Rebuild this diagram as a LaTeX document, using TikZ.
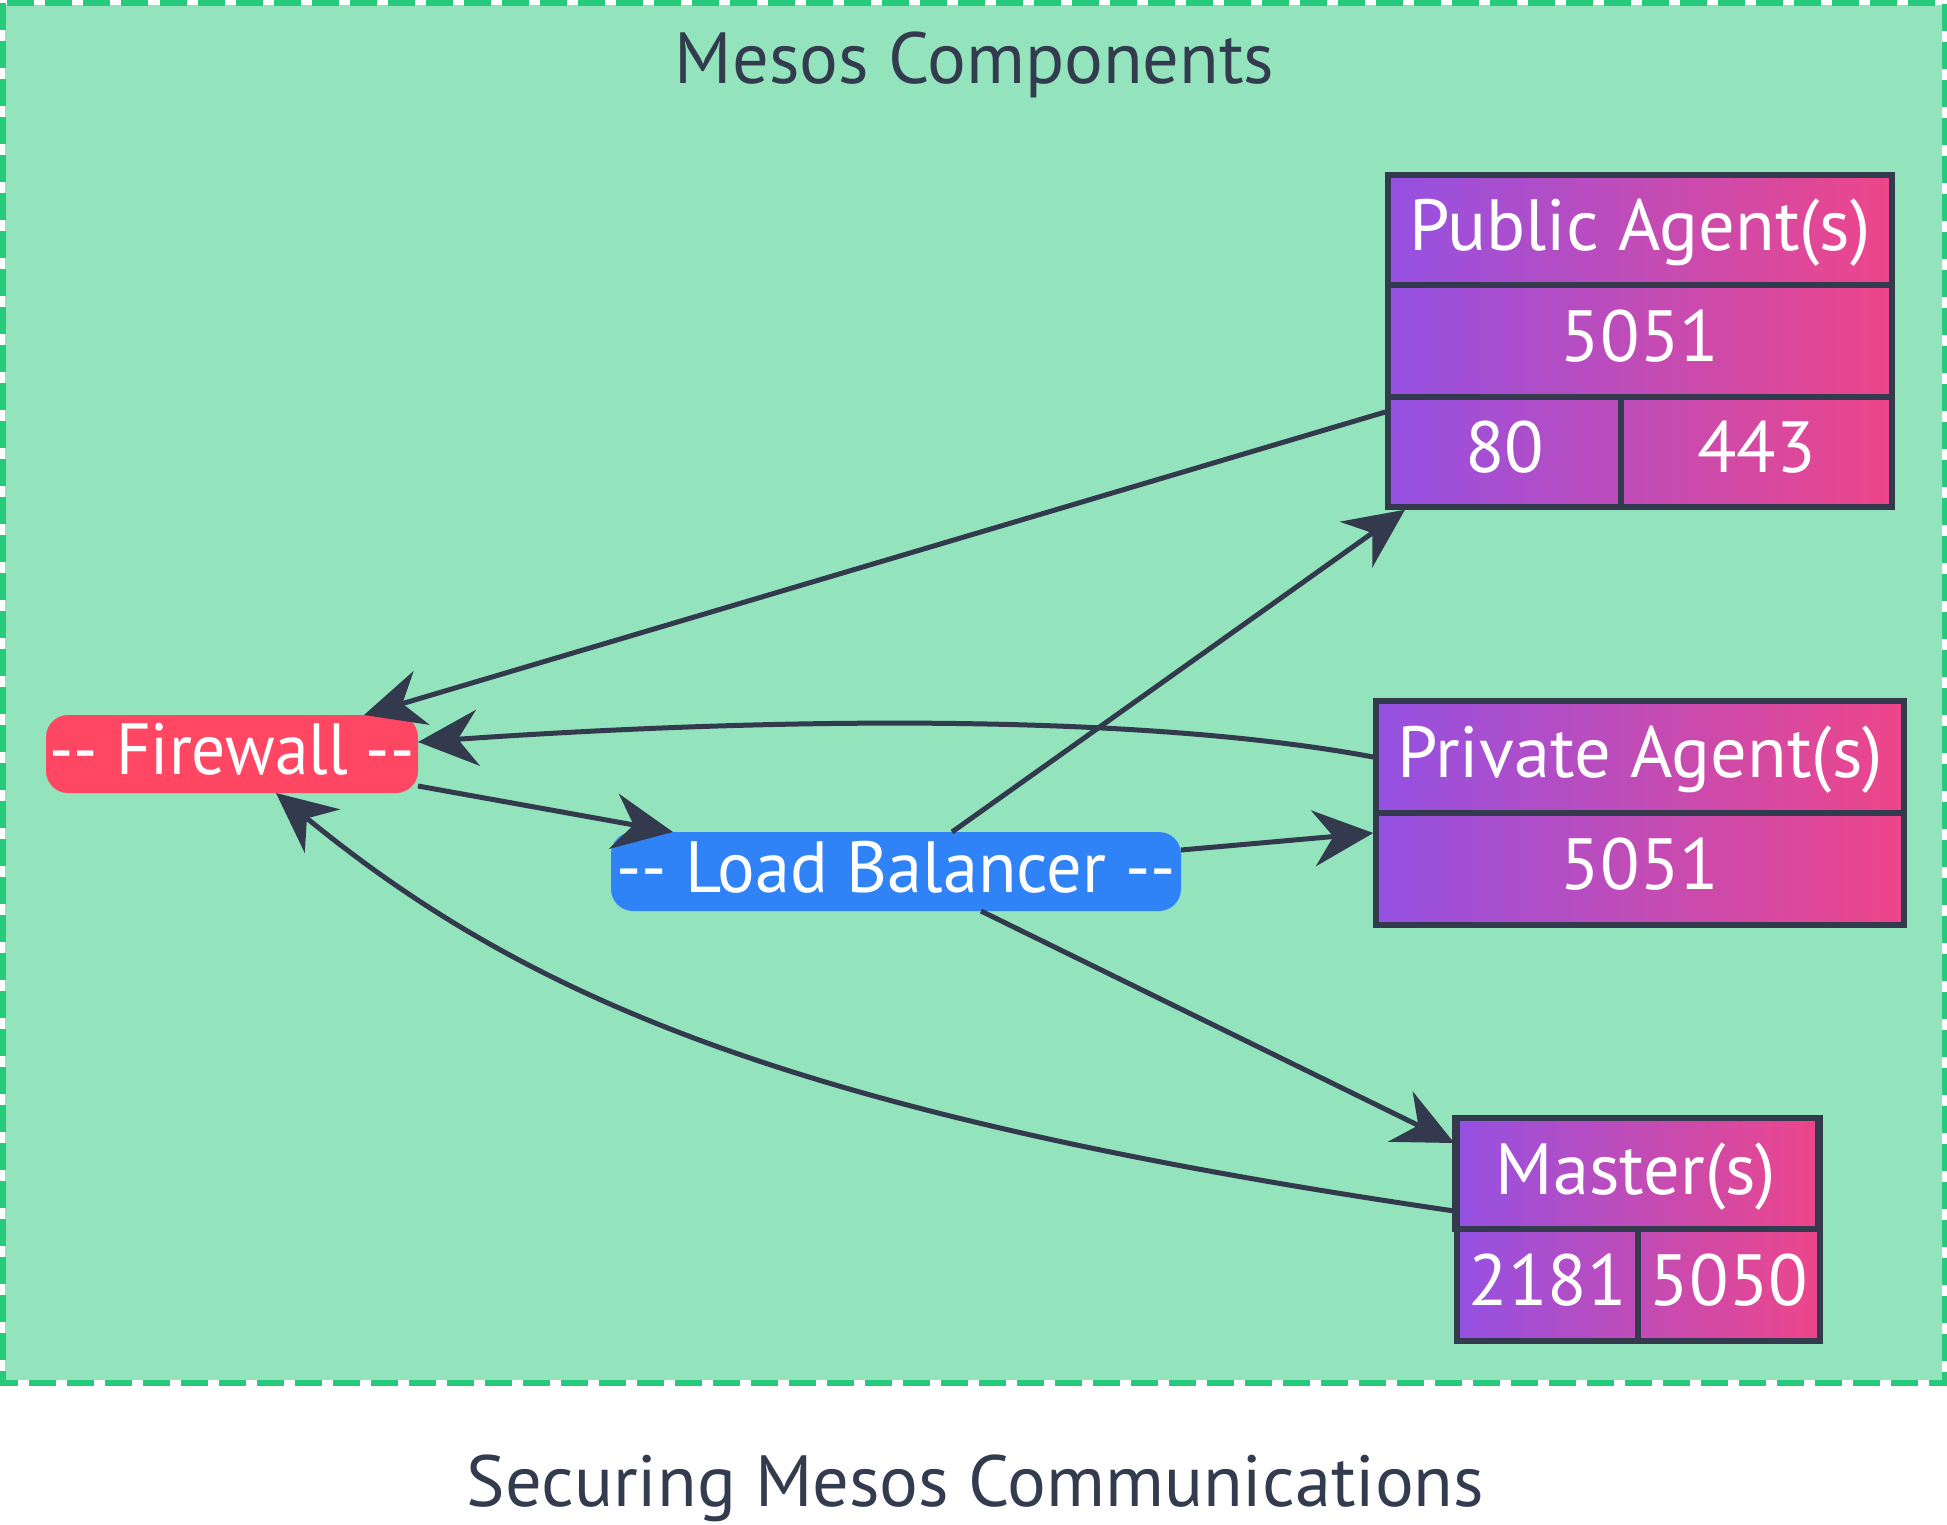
\documentclass[tikz,border=0pt]{standalone}
\usepackage{fontspec}
\usepackage{graphicx}
\setmainfont{PT Sans}
\usetikzlibrary{arrows.meta,calc}
\definecolor{clfill}{HTML}{93E4BD}
\definecolor{clborder}{HTML}{27C97A}
\definecolor{linec}{HTML}{333A4D}
\definecolor{textc}{HTML}{333B4F}
\definecolor{gradl}{HTML}{9451E3}
\definecolor{gradr}{HTML}{EE4689}
\definecolor{fwred}{HTML}{FF4663}
\definecolor{lbblue}{HTML}{3083F7}
\begin{document}
\begin{tikzpicture}[x=1pt,y=-1pt,
  every node/.style={font=\fontsize{72.5pt}{84pt}\selectfont},
  outerbox/.style={draw=linec, line width=5.5pt, left color=gradl, right color=gradr},
  cellbox/.style={draw=linec, line width=5.5pt, text=white, inner sep=0pt, text height=52pt, text depth=11pt},
  pill/.style={rounded corners=22pt, text=white, inner sep=0pt, outer sep=0pt, text height=52pt, text depth=11pt},
  conn/.style={draw=linec, line width=5pt, -{Stealth[length=60pt,width=56pt,inset=20pt]}},
  lbl/.style={text=textc, anchor=base, inner sep=0pt}
]
\useasboundingbox (0,0) rectangle (1947,1524);
\fill[white] (0,0) rectangle (1947,1524);
\fill[clfill] (5,5) rectangle (1942,1380);
\draw[clborder, line width=6pt, dash pattern=on 27pt off 11pt] (2.5,2.5) rectangle (1944.5,1382.5);

\node[lbl] (title) at (974.6,83.3) {Mesos Components};
\node[lbl] (caption) at (975.5,1506.7) {Securing Mesos Communications};

% Public Agent(s)
\node[outerbox, minimum width=504pt, minimum height=332pt] (pa) at (1640,341) {};
\node[cellbox, minimum width=504pt, minimum height=110pt] (pat) at (1640,230) {Public Agent(s)};
\node[cellbox, minimum width=504pt, minimum height=112pt] (pap) at (1640,341) {5051};
\node[cellbox, minimum width=233pt, minimum height=110pt] (pa80) at (1504.5,452) {80};
\node[cellbox, minimum width=271pt, minimum height=110pt] (pa443) at (1756.5,452) {443};

% Private Agent(s)
\node[outerbox, minimum width=528pt, minimum height=224pt] (pra) at (1640,813) {};
\node[cellbox, minimum width=528pt, minimum height=112pt] (prat) at (1640,757) {Private Agent(s)};
\node[cellbox, minimum width=528pt, minimum height=112pt] (prap) at (1640,869) {5051};

% Master(s)
\node[outerbox, minimum width=363pt, minimum height=223pt] (ms) at (1638.5,1229.5) {};
\node[cellbox, minimum width=363pt, minimum height=111pt] (mst) at (1636,1173.5) {Master(s)};
\node[cellbox, minimum width=181pt, minimum height=112pt] (ms2181) at (1547.5,1285) {2181};
\node[cellbox, minimum width=182pt, minimum height=112pt] (ms5050) at (1729,1285) {5050};

% Firewall and Load Balancer
\node[pill, fill=fwred, minimum width=372pt, minimum height=78pt] (fw) at (232,754) {\scalebox{0.93}[1]{-{}- Firewall -{}-}};
\node[pill, fill=lbblue, minimum width=570pt, minimum height=79pt] (lb) at (896,871.5) {\scalebox{0.97}[1]{-{}- Load Balancer -{}-}};

% connectors
\draw[conn] ([yshift=-71pt]pa.west) -- ([xshift=132pt]fw.north);
\draw[conn] ([yshift=56pt]pra.west) .. controls +(-242,-45) and +(344,-24) .. ([yshift=12pt]fw.east);
\draw[conn] ([yshift=-32pt]fw.east) -- ([xshift=-223pt]lb.north);
\draw[conn] ([xshift=56pt]lb.north) -- ([xshift=-235pt]pa.south);
\draw[conn] ([yshift=21.5pt]lb.east) -- ([yshift=-20pt]pra.west);
\draw[conn] ([xshift=85pt]lb.south) -- ([yshift=86.5pt]ms.west);
\draw[conn] ([yshift=18.5pt]ms.west) .. controls +(-655,-96) and +(254,208) .. ([xshift=44pt]fw.south);
\end{tikzpicture}
\end{document}
